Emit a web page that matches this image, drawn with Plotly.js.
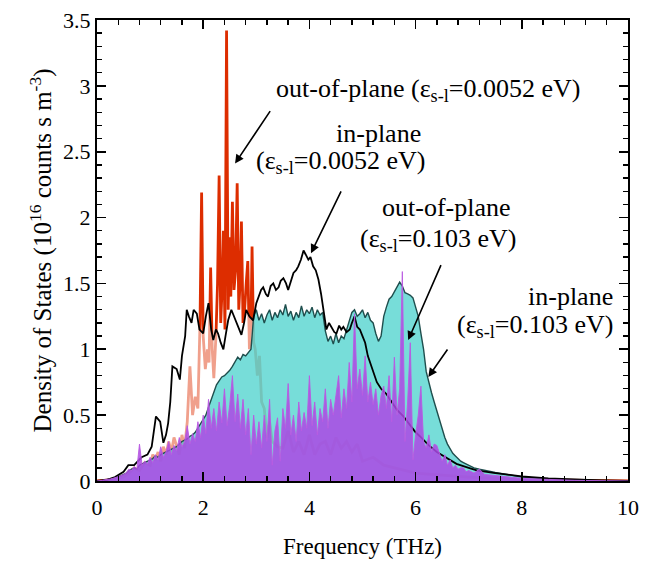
<!DOCTYPE html>
<html>
<head>
<meta charset="utf-8">
<script src="https://cdn.plot.ly/plotly-3.0.1.min.js"></script>
<style>
html,body{margin:0;padding:0;background:#fff;}
#chart{width:653px;height:563px;}
</style>
</head>
<body>
<div id="chart"></div>
<script>
// Shared frequency grid (THz) for the eps=0.103 eV series
const freqGrid = [
0,0.05,0.1,0.15,0.2,0.25,0.3,0.35,0.4,0.45,
0.5,0.55,0.6,0.65,0.7,0.75,0.8,0.85,0.9,0.95,
1.0,1.05,1.1,1.15,1.2,1.25,1.3,1.35,1.4,1.45,
1.5,1.55,1.6,1.65,1.7,1.75,1.8,1.85,1.9,1.95,
2.0,2.05,2.1,2.15,2.2,2.25,2.3,2.35,2.4,2.45,
2.5,2.55,2.6,2.65,2.7,2.75,2.8,2.85,2.9,2.95,
3.0,3.05,3.1,3.15,3.2,3.25,3.3,3.35,3.4,3.45,
3.5,3.55,3.6,3.65,3.7,3.75,3.8,3.85,3.9,3.95,
4.0,4.05,4.1,4.15,4.2,4.25,4.3,4.35,4.4,4.45,
4.5,4.55,4.6,4.65,4.7,4.75,4.8,4.85,4.9,4.95,
5.0,5.05,5.1,5.15,5.2,5.25,5.3,5.35,5.4,5.45,
5.5,5.55,5.6,5.65,5.7,5.75,5.8,5.85,5.9,5.95,
6.0,6.05,6.1,6.15,6.2,6.25,6.3,6.35,6.4,6.45,
6.5,6.55,6.6,6.65,6.7,6.75,6.8,6.85,6.9,6.95,
7.0,
7.1,7.2,7.3,7.5,8.0,8.5,9.0,10
];

// out-of-plane, eps_s-l = 0.103 eV (purple)
const outPlane0103 = [
0,0,0.005,0.01,0.01,0.015,0.02,0.025,0.03,0.04,
0.05,0.06,0.09,0.08,0.11,0.09,0.28,0.12,0.15,0.13,
0.18,0.14,0.2,0.16,0.26,0.18,0.22,0.3,0.2,0.27,
0.23,0.33,0.26,0.3,0.42,0.28,0.36,0.3,0.45,0.33,
0.5,0.36,0.62,0.4,0.55,0.38,0.6,0.44,0.7,0.42,
0.58,0.8,0.45,0.66,0.4,0.62,0.35,0.55,0.2,0.5,
0.28,0.45,0.25,0.5,0.3,0.62,0.12,0.38,0.48,0.15,
0.55,0.4,0.74,0.35,0.5,0.3,0.6,0.38,0.52,0.4,
0.8,0.42,0.6,0.35,0.55,0.45,0.7,0.4,0.62,0.5,
0.65,0.8,0.48,0.7,0.55,0.9,0.6,1.27,0.7,0.85,
0.65,0.95,0.6,0.75,0.58,0.7,0.5,0.65,0.72,0.55,
0.8,0.45,0.94,0.5,0.7,1.59,0.3,0.6,1.05,0.16,
0.35,0.5,0.72,0.3,0.25,0.35,0.22,0.28,0.27,0.2,
0.15,0.2,0.12,0.16,0.1,0.12,0.09,0.1,0.1,0.07,
0.08,
0.06,0.09,0.05,0.04,0.02,0.012,0.005,0
];

// in-plane, eps_s-l = 0.103 eV (cyan)
const inPlane0103 = [
0,0,0.005,0.01,0.01,0.015,0.02,0.025,0.03,0.04,
0.05,0.06,0.08,0.09,0.1,0.09,0.12,0.13,0.14,0.15,
0.16,0.17,0.19,0.18,0.2,0.21,0.22,0.23,0.24,0.25,
0.26,0.28,0.3,0.31,0.32,0.34,0.35,0.37,0.4,0.43,
0.46,0.5,0.56,0.62,0.68,0.73,0.76,0.79,0.8,0.82,
0.84,0.87,0.9,0.94,0.92,0.96,0.95,0.98,1.0,1.25,
1.3,1.22,1.27,1.2,1.26,1.3,1.22,1.28,1.24,1.3,
1.26,1.34,1.25,1.29,1.22,1.28,1.24,1.33,1.25,1.3,
1.27,1.32,1.24,1.3,1.26,1.28,1.14,1.06,1.1,1.04,
1.12,1.05,1.1,1.08,1.15,1.22,1.28,1.3,1.25,1.27,
1.3,1.24,1.28,1.22,1.2,1.12,1.06,1.1,1.25,1.32,
1.38,1.4,1.44,1.48,1.51,1.48,1.43,1.42,1.41,1.39,
1.32,1.25,1.12,1.0,0.83,0.74,0.67,0.6,0.53,0.46,
0.4,0.33,0.28,0.24,0.21,0.19,0.17,0.15,0.14,0.13,
0.12,
0.1,0.09,0.08,0.065,0.03,0.015,0.006,0
];

// in-plane, eps_s-l = 0.0052 eV (black line)
const freqInPlane0052 = [
0,0.2,0.34,0.5,0.59,0.7,0.84,0.95,1.03,1.11,
1.15,1.19,1.25,1.3,1.34,1.38,1.42,1.46,1.5,1.56,
1.6,1.66,1.69,1.73,1.78,1.82,1.88,1.93,2.0,2.05,
2.1,2.15,2.19,2.24,2.28,2.33,2.38,2.42,2.47,2.53,
2.58,2.62,2.67,2.72,2.77,2.81,2.87,2.94,3.0,3.04,
3.09,3.13,3.18,3.22,3.27,3.32,3.37,3.42,3.46,3.51,
3.56,3.6,3.65,3.7,3.75,3.79,3.84,3.89,3.93,3.98,
4.02,4.07,4.12,4.17,4.22,4.26,4.32,4.37,4.42,4.47,
4.51,4.56,4.6,4.64,4.7,4.76,4.8,4.85,4.9,4.95,
5.0,5.05,5.1,5.14,5.2,5.27,5.35,5.45,5.55,5.65,
5.77,5.9,6.0,6.08,6.25,6.4,6.6,6.77,7.0,7.15,
7.5,8.0,8.5,9.0,9.5,10
];
const inPlane0052 = [
0,0.01,0.03,0.07,0.12,0.12,0.18,0.2,0.26,0.49,
0.47,0.45,0.29,0.35,0.44,0.6,0.87,0.86,0.85,0.77,
0.95,1.1,1.3,1.25,1.2,1.3,1.27,1.15,1.12,1.25,
1.35,1.15,1.07,1.15,1.12,1.05,1.0,1.1,1.22,1.3,
1.25,1.2,1.15,1.11,1.2,1.3,1.25,1.22,1.35,1.4,
1.45,1.47,1.42,1.4,1.48,1.5,1.45,1.47,1.52,1.54,
1.5,1.45,1.52,1.58,1.6,1.63,1.68,1.75,1.72,1.68,
1.7,1.63,1.6,1.53,1.42,1.3,1.15,1.2,1.17,1.13,
1.12,1.18,1.15,1.17,1.13,1.15,1.2,1.25,1.17,1.15,
1.1,1.05,0.95,0.9,0.82,0.75,0.7,0.66,0.6,0.54,
0.49,0.42,0.37,0.34,0.27,0.22,0.17,0.13,0.1,0.08,
0.06,0.035,0.02,0.01,0.005,0
];

// out-of-plane, eps_s-l = 0.0052 eV (red)
const freqOutPlane0052 = [
0,0.3,0.5,0.6,0.7,0.8,0.9,1.0,
1.05,1.1,1.15,1.2,1.25,1.3,1.35,1.4,1.45,1.5,
1.55,1.6,1.65,1.7,1.75,1.8,1.85,1.9,1.94,1.97,
2.0,2.04,2.08,2.11,2.14,2.17,2.2,2.24,2.27,2.30,
2.33,2.36,2.38,2.41,2.44,2.47,2.50,2.52,2.55,2.58,
2.61,2.64,2.67,2.70,2.72,2.75,2.78,2.81,2.84,2.87,
2.90,2.92,2.95,2.98,3.02,3.06,3.1,3.15,3.2,3.25,
3.3,3.4,3.5,3.6,3.7,3.8,3.9,4.0,4.1,4.2,
4.3,4.4,4.5,4.6,4.7,4.8,4.9,5.0,5.2,5.4,
5.6,5.8,6.0,6.3,7.0,8.0,10
];
const outPlane0052 = [
0,0.01,0.03,0.06,0.1,0.08,0.14,0.12,
0.2,0.16,0.22,0.15,0.26,0.2,0.3,0.22,0.33,0.26,
0.2,0.35,0.25,0.45,0.87,0.5,0.64,0.55,1.2,2.19,
1.1,0.85,1.0,0.9,1.62,1.0,0.78,1.1,1.5,2.32,
1.2,1.5,1.9,1.15,3.42,1.3,1.85,1.4,2.12,1.45,
1.6,2.26,1.3,1.55,1.97,1.2,1.3,1.5,1.67,1.0,
1.2,1.78,1.05,1.0,0.8,0.95,0.6,0.55,0.33,0.45,
0.3,0.26,0.25,0.38,0.22,0.3,0.2,0.35,0.2,0.28,
0.3,0.2,0.33,0.25,0.3,0.22,0.28,0.15,0.18,0.12,
0.1,0.08,0.06,0.05,0.03,0.01,0
];

const xTickVals = [0,2,4,6,8,10];
const yTickVals = [0,0.5,1,1.5,2,2.5,3,3.5];

const FONT = 'Liberation Serif';

const traces = [
  {x: freqOutPlane0052, y: outPlane0052, type:'scatter', mode:'lines',
   line:{color:'#dd2d00', width:2.8}},
  {x: freqInPlane0052, y: inPlane0052, type:'scatter', mode:'none',
   fill:'tozeroy', fillcolor:'rgba(255,255,255,0.55)'},
  {x: freqGrid, y: inPlane0103, type:'scatter', mode:'lines',
   fill:'tozeroy', fillcolor:'rgba(66,208,202,0.72)',
   line:{color:'#1f4e4d', width:1.4}},
  {x: freqInPlane0052, y: inPlane0052, type:'scatter', mode:'lines',
   line:{color:'#000000', width:1.8}},
  {x: freqGrid, y: outPlane0103, type:'scatter', mode:'lines',
   fill:'tozeroy', fillcolor:'rgba(172,72,228,0.85)',
   line:{color:'rgba(185,90,225,0.9)', width:1}}
];

function mkArrow(tx, ty, fx, fy){
  return {x:tx, y:ty, xref:'x', yref:'y', ax:fx, ay:fy, axref:'x', ayref:'y',
    text:'', showarrow:true, arrowhead:2, arrowsize:1.1, arrowwidth:1.6, arrowcolor:'#000'};
}
function mkLabel(x, y, txt){
  return {x:x, y:y, xref:'x', yref:'y', text:txt, showarrow:false,
    xanchor:'right', yanchor:'middle', align:'right',
    font:{family:FONT, size:26, color:'#000'}};
}
const eps = 'ε<sub>s-l</sub>';

const layout = {
  width:653, height:563,
  margin:{l:97, r:25, t:20, b:82},
  paper_bgcolor:'#fff', plot_bgcolor:'#fff',
  showlegend:false,
  font:{family:FONT, size:22, color:'#000'},
  xaxis:{
    range:[0,10], tickvals:xTickVals, ticks:'inside', ticklen:9, tickwidth:1.6,
    tickcolor:'#000', showline:true, linewidth:2, linecolor:'#000', mirror:'ticks',
    showgrid:false, zeroline:false, ticklabelstandoff:6,
    minor:{dtick:0.4, ticks:'inside', ticklen:5, tickwidth:1.4, tickcolor:'#000', showgrid:false},
    tickfont:{family:FONT, size:22},
    title:{text:'Frequency (THz)', font:{family:FONT, size:23}, standoff:18}
  },
  yaxis:{
    range:[0,3.5], tickvals:yTickVals, ticks:'inside', ticklen:9, tickwidth:1.6,
    tickcolor:'#000', showline:true, linewidth:2, linecolor:'#000', mirror:'ticks',
    showgrid:false, zeroline:false,
    minor:{dtick:0.1, ticks:'inside', ticklen:5, tickwidth:1.4, tickcolor:'#000', showgrid:false},
    tickfont:{family:FONT, size:22},
    title:{text:'Density of States (10<sup>16</sup> counts s m<sup>-3</sup>)', font:{family:FONT, size:25}, standoff:4}
  },
  annotations:[
    mkLabel(9.13, 2.97, 'out-of-plane ('+eps+'=0.0052 eV)'),
    mkLabel(6.14, 2.64, 'in-plane'),
    mkLabel(6.21, 2.42, '('+eps+'=0.0052 eV)'),
    mkLabel(7.83, 2.08, 'out-of-plane'),
    mkLabel(7.93, 1.83, '('+eps+'=0.103 eV)'),
    mkLabel(9.75, 1.40, 'in-plane'),
    mkLabel(9.75, 1.18, '('+eps+'=0.103 eV)'),
    mkArrow(2.60, 2.41, 3.28, 2.82),
    mkArrow(4.03, 1.73, 4.61, 2.21),
    mkArrow(5.86, 1.07, 6.49, 1.65),
    mkArrow(6.24, 0.79, 6.62, 1.01)
  ]
};

Plotly.newPlot('chart', traces, layout, {staticPlot:true, displayModeBar:false});
</script>
</body>
</html>
